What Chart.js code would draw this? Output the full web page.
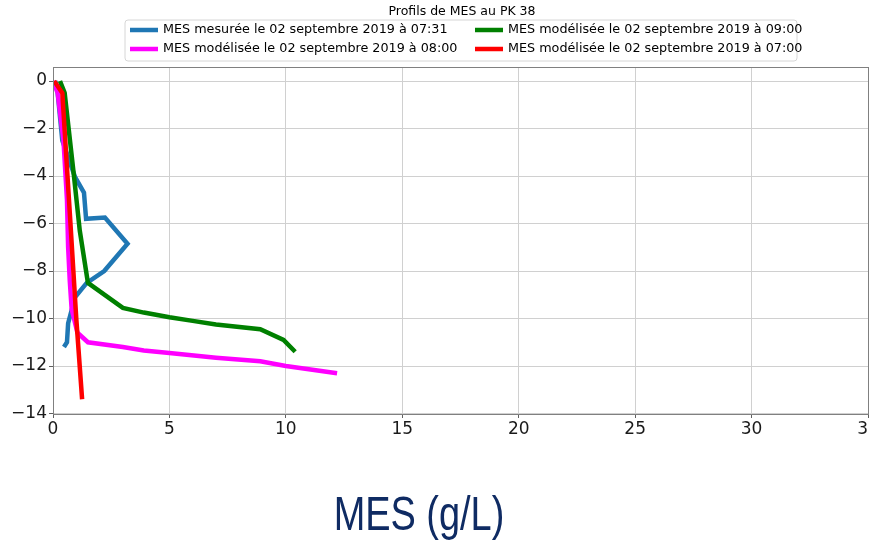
<!DOCTYPE html>
<html>
<head>
<meta charset="utf-8">
<script src="https://cdn.jsdelivr.net/npm/chart.js@4.4.0/dist/chart.umd.min.js"></script>
<style>
  html, body { margin: 0; padding: 0; background: #fff; overflow: hidden; }
  #wrap { position: relative; width: 869px; height: 544px; overflow: hidden; }
  #chart { position: absolute; left: 0; top: 0; }
</style>
</head>
<body>
<div id="wrap"><canvas id="chart" width="888" height="544"></canvas></div>
<script>
// Series data (MES in g/L, depth in m)
const mesureeX  = [0.1, 0.2, 0.4, 0.95, 1.33, 1.42, 2.23, 3.2, 2.2, 1.45, 0.95, 0.65, 0.6, 0.47];
const mesureeY  = [0, -0.5, -2.5, -4.05, -4.7, -5.8, -5.75, -6.85, -8.0, -8.5, -9.1, -10.2, -11.0, -11.2];

const mod0900X = [0.3, 0.5, 0.9, 1.15, 1.5, 3.0, 3.9, 5.0, 6.0, 7.0, 8.9, 9.9, 10.4];
const mod0900Y = [0, -0.5, -4.0, -6.3, -8.5, -9.55, -9.75, -9.95, -10.1, -10.25, -10.45, -10.9, -11.4];

const mod0800X = [0, 0.2, 0.45, 0.6, 0.65, 0.72, 0.8, 1.05, 1.5, 3.0, 3.9, 5.0, 7.0, 8.9, 10.0, 12.2];
const mod0800Y = [0, -0.5, -2.5, -5.0, -7.0, -8.4, -9.6, -10.6, -11.0, -11.2, -11.35, -11.45, -11.65, -11.8, -12.0, -12.3];

const mod0700X = [0.05, 0.4, 0.75, 1.0, 1.25];
const mod0700Y = [0, -0.5, -6.0, -10.0, -13.4];

const seriesLabels = [
  'MES mesurée le 02 septembre 2019 à 07:31',
  'MES modélisée le 02 septembre 2019 à 08:00',
  'MES modélisée le 02 septembre 2019 à 09:00',
  'MES modélisée le 02 septembre 2019 à 07:00'
];
const seriesColors = ['#1f77b4', '#ff00ff', '#008000', '#ff0000'];

const xTicks = [0, 5, 10, 15, 20, 25, 30, 35];
const yTicks = [0, -2, -4, -6, -8, -10, -12, -14];

const chartTitle = 'Profils de MES au PK 38';
const axisLabel = 'MES (g/L)';

const toPoints = (xs, ys) => xs.map((x, i) => ({ x: x, y: ys[i] }));

const seriesPoints = [
  toPoints(mesureeX, mesureeY),
  toPoints(mod0800X, mod0800Y),
  toPoints(mod0900X, mod0900Y),
  toPoints(mod0700X, mod0700Y)
];

// Title, legend box, frame and big axis label
const decorations = {
  id: 'decorations',
  afterDatasetsDraw(chart) {
    const ctx = chart.ctx;
    const a = chart.chartArea;
    ctx.save();
    // frame
    ctx.strokeStyle = '#808080';
    ctx.lineWidth = 1;
    ctx.strokeRect(a.left + 0.5, a.top + 0.5, a.right - a.left, a.bottom - a.top);

    // title
    ctx.fillStyle = '#000';
    ctx.font = '12.5px "DejaVu Sans"';
    ctx.textAlign = 'center';
    ctx.textBaseline = 'middle';
    ctx.fillText(chartTitle, 462, 12);

    // legend box
    const bx = 125, by = 20, bw = 672, bh = 41, r = 3;
    ctx.beginPath();
    ctx.moveTo(bx + r, by);
    ctx.arcTo(bx + bw, by, bx + bw, by + bh, r);
    ctx.arcTo(bx + bw, by + bh, bx, by + bh, r);
    ctx.arcTo(bx, by + bh, bx, by, r);
    ctx.arcTo(bx, by, bx + bw, by, r);
    ctx.closePath();
    ctx.fillStyle = 'rgba(255,255,255,0.8)';
    ctx.fill();
    ctx.strokeStyle = '#d6d6d6';
    ctx.stroke();

    const cols = [128, 473];
    const rows = [30, 49];
    ctx.textAlign = 'left';
    ctx.font = '12.75px "DejaVu Sans"';
    seriesLabels.forEach((lab, i) => {
      const cx = cols[Math.floor(i / 2)];
      const cy = rows[i % 2];
      ctx.strokeStyle = seriesColors[i];
      ctx.lineWidth = 4.5;
      ctx.beginPath();
      ctx.moveTo(cx + 2, cy);
      ctx.lineTo(cx + 30, cy);
      ctx.stroke();
      ctx.fillStyle = '#000';
      ctx.fillText(lab, cx + 35, cy);
    });

    // big axis label (condensed)
    ctx.fillStyle = '#0f2b63';
    ctx.font = '48px "Liberation Sans Narrow", "Liberation Sans", sans-serif';
    ctx.textAlign = 'center';
    ctx.textBaseline = 'alphabetic';
    ctx.translate(419, 530);
    ctx.scale(0.79, 1);
    ctx.fillText(axisLabel, 0, 0);
    ctx.restore();
  }
};

const ctx = document.getElementById('chart').getContext('2d');
new Chart(ctx, {
  type: 'line',
  data: {
    datasets: seriesPoints.map((pts, i) => ({
      label: seriesLabels[i],
      data: pts,
      borderColor: seriesColors[i],
      backgroundColor: seriesColors[i],
      borderWidth: 4.5,
      pointRadius: 0,
      tension: 0,
      fill: false,
      order: [4, 3, 2, 1][i]
    }))
  },
  options: {
    responsive: false,
    animation: false,
    layout: { padding: { left: 0, top: 67, right: 20, bottom: 0 } },
    plugins: {
      legend: { display: false },
      title: { display: false },
      tooltip: { enabled: false }
    },
    scales: {
      x: {
        type: 'linear',
        min: xTicks[0],
        max: xTicks[xTicks.length - 1],
        afterBuildTicks: (s) => { s.ticks = xTicks.map(v => ({ value: v })); },
        afterFit: (s) => { s.height = 130; },
        ticks: {
          color: '#1a1a1a',
          font: { family: 'DejaVu Sans', size: 17 },
          padding: 1,
          maxRotation: 0,
          autoSkip: false
        },
        grid: { color: '#d0d0d0', lineWidth: 1, tickColor: '#606060', tickLength: 4 },
        border: { color: '#808080' }
      },
      y: {
        type: 'linear',
        min: -14.02,
        max: 0.59,
        afterBuildTicks: (s) => { s.ticks = yTicks.map(v => ({ value: v })); },
        afterFit: (s) => { s.width = 53; },
        ticks: {
          color: '#1a1a1a',
          font: { family: 'DejaVu Sans', size: 17 },
          padding: 2,
          autoSkip: false,
          callback: (v) => (v < 0 ? '\u2212' + Math.abs(v) : String(v))
        },
        grid: { color: '#d0d0d0', lineWidth: 1, tickColor: '#606060', tickLength: 4 },
        border: { color: '#808080' }
      }
    }
  },
  plugins: [decorations]
});
</script>
</body>
</html>
